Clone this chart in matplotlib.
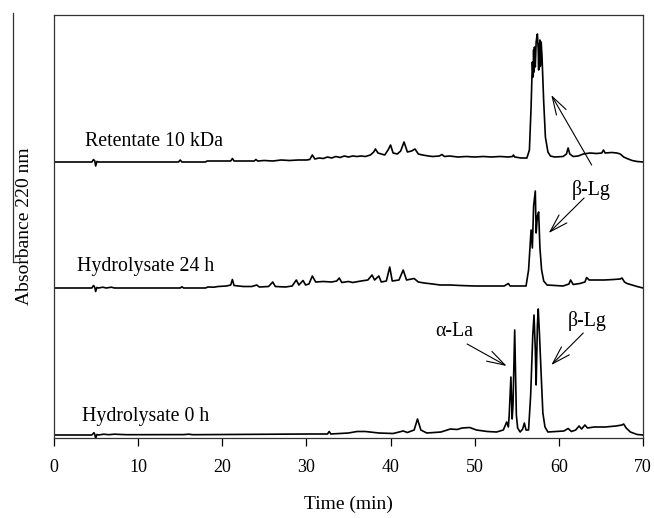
import matplotlib
matplotlib.use('Agg')
import matplotlib.pyplot as plt
from matplotlib.lines import Line2D

plt.rcParams['font.family'] = ['Liberation Serif', 'DejaVu Serif']

# chromatogram traces: time (min) and absorbance (arbitrary units above each baseline)
ret_t = [0, 4.5, 4.7, 4.85, 4.95, 5.1, 5.3, 14.8, 15.0, 15.2, 18.0, 18.2, 21.0, 21.2, 21.4,
         23.8, 24.0, 24.2, 25.0, 26.0, 27.0, 28.0, 29.0, 30.0, 30.4, 30.7, 31.0, 31.5, 32.0,
         32.5, 33.0, 33.5, 34.0, 34.5, 35.0, 35.5, 36.0, 36.5, 37.0, 37.6, 38.0, 38.2, 38.5,
         38.9, 39.3, 39.7, 40.0, 40.3, 40.8, 41.2, 41.6, 42.0, 42.5, 42.9, 43.3, 43.8, 44.5,
         45.0, 45.8, 46.1, 46.4, 47.0, 48.0, 49.0, 50.0, 51.0, 52.0, 53.0, 54.0, 54.5, 54.6,
         54.75, 55.5, 56.2, 56.5, 56.7, 56.85, 56.95, 57.0, 57.05, 57.1, 57.2, 57.3, 57.4,
         57.45, 57.55, 57.6, 57.65, 57.7, 57.75, 57.8, 57.9, 58.0, 58.2, 58.4, 58.7, 59.0,
         59.5, 60.5, 60.9, 61.1, 61.3, 61.7, 62.3, 62.9, 63.7, 64.5, 65.1, 65.3, 65.5, 66.3,
         66.9, 67.3, 67.7, 68.1, 68.7, 69.3, 70]
ret_a = [0, 0, 2.5, 1, -4, 0.5, 0, 0, 2, 0, 0, 1, 1, 3.5, 1,
         1, 2.5, 1, 1.5, 1, 2, 1.5, 2, 2, 2.5, 7, 3, 4, 3.5,
         5, 4, 5.5, 4.5, 6, 5, 6, 5.5, 6, 5.5, 7, 10, 13, 9,
         8, 7, 12, 17, 9, 8, 11, 20, 10, 11, 13, 8, 7, 6,
         5.5, 6, 7.5, 5.5, 6, 5, 5.5, 5, 5.5, 5, 5.5, 5, 5.5, 7,
         5, 4, 4, 12, 55, 100, 85, 112, 90, 115, 95, 120, 126,
         128, 112, 92, 118, 95, 122, 96, 120, 105, 60, 25, 10, 6,
         5, 5.5, 8, 14, 8, 5.5, 6, 8, 9, 8.5, 9, 12, 9, 9.5,
         9, 8, 5, 3.5, 1.5, 0.5, 0]

h24_t = [0, 4.5, 4.7, 4.85, 4.95, 5.1, 5.3, 5.8, 6.2, 6.8, 7.2, 15.0, 15.2, 15.4, 18.0, 18.3,
         19.0, 19.5, 20.5, 21.0, 21.2, 21.4, 22.5, 23.5, 24.1, 24.4, 25.5, 26.0, 26.3, 27.5,
         28.3, 28.8, 29.1, 29.6, 29.9, 30.3, 30.7, 31.1, 32.0, 33.0, 33.6, 33.9, 34.2, 35.0,
         35.5, 36.5, 37.3, 37.8, 38.1, 38.6, 38.9, 39.5, 39.9, 40.2, 41.0, 41.5, 41.9, 42.8,
         43.3, 44.0, 45.0, 45.9, 47.1, 48.3, 50.0, 52.0, 53.5, 54.0, 54.2, 56.1, 56.4, 56.7,
         56.85, 57.0, 57.2, 57.3, 57.45, 57.6, 57.75, 57.95, 58.2, 58.6, 60.5, 61.2, 61.4, 61.7,
         62.5, 63.1, 63.3, 63.6, 64.5, 65.4, 66.5, 67.3, 67.5, 67.8, 68.1, 69.3, 70]
h24_a = [0, 0, 2.5, 0.5, -3.5, 0.5, 0, 0.8, 0, 0.8, 0, 0, 1.2, 0, 0, 1,
         0.8, 1.5, 2, 3, 8.5, 2.5, 1.5, 1.5, 3, 1, 1.5, 6, 1.5, 1,
         2, 8, 3, 7.5, 3, 4, 12, 6, 6.5, 6, 7, 10, 5.5, 6.5,
         5.5, 7, 8, 13, 8, 12, 6, 7, 21, 7, 8, 18, 8, 9.5,
         6, 5, 4, 3, 3, 2.5, 2, 2, 2, 4.5, 2, 2, 18, 58,
         40, 82, 97, 55, 72, 76, 40, 18, 7, 3, 2, 4, 8, 3.5,
         4.5, 6, 10.5, 8, 8, 8, 8.5, 9, 10, 6, 4.5, 1.5, 0]

h0_t = [0, 4.5, 4.75, 4.85, 4.95, 5.1, 5.3, 5.9, 6.5, 7.2, 8.0, 8.7, 15.4, 16.0, 16.5, 30.4,
        32.5, 32.7, 32.9, 35.0, 36.0, 37.0, 38.6, 40.3, 41.5, 42.0, 42.8, 43.2, 43.6, 44.3,
        46.0, 47.1, 47.9, 48.5, 49.4, 50.2, 51.5, 52.6, 53.4, 53.8, 54.0, 54.1, 54.3, 54.45,
        54.55, 54.75, 54.95, 55.1, 55.4, 55.7, 55.9, 56.1, 56.4, 56.65, 56.9, 57.05, 57.2,
        57.3, 57.45, 57.55, 57.7, 57.9, 58.1, 58.35, 58.7, 60.6, 61.1, 61.5, 62.0, 62.4, 62.7,
        63.1, 63.4, 64.2, 65.5, 66.8, 67.5, 67.7, 68.0, 68.5, 69.3, 70]
h0_a = [0, 0, 2.3, 0.5, -3.3, 0.5, 0, 0.8, 0.3, 0.8, 0.5, 0.3, 0.4, 0.8, 0.3, 1,
        1, 3.5, 1, 2, 3.5, 3.5, 2, 1.5, 4, 2.5, 5, 16, 5, 2,
        3, 6, 5.5, 7, 7.5, 5, 3.5, 3, 5, 13, 8, 20, 58, 16,
        30, 105, 20, 7, 3, 6, 12, 5, 5, 40, 100, 120, 85,
        50, 110, 126, 100, 60, 22, 8, 3, 4, 6.5, 3.5, 5, 9, 6,
        10, 7, 8, 8, 9, 10, 11, 7, 3, 0.5, 0]

names = ['Retentate 10 kDa', 'Hydrolysate 24 h', 'Hydrolysate 0 h']
xticks = [0, 10, 20, 30, 40, 50, 60, 70]

# vertical offsets of the stacked traces
offsets = [276, 150, 3]
traces = [(ret_t, ret_a), (h24_t, h24_a), (h0_t, h0_a)]

fig = plt.figure(figsize=(6.54, 5.18), dpi=100)
ax = fig.add_axes([54 / 654, 1 - 438 / 518, 589 / 654, 423 / 518])

for (t, a), off in zip(traces, offsets):
    ax.plot(t, [v + off for v in a], color='black', lw=1.2)

ax.set_xlim(0, 70)
ax.set_ylim(0, 423)
ax.set_xticks(xticks)
ax.set_yticks([])
ax.tick_params(axis='x', direction='out', length=6, width=0.9, pad=9, labelsize=13)
for s in ax.spines.values():
    s.set_linewidth(0.9)
    s.set_color('#333333')

ax.set_xlabel('Time (min)', fontsize=14, labelpad=14)
ax.set_ylabel('Absorbance 220 nm', fontsize=14, labelpad=15)

# trace labels
fs = 14.3
ax.text(3.7, 297, names[0], fontsize=fs, va='center', ha='left')
ax.text(2.7, 171, names[1], fontsize=fs, va='center', ha='left')
ax.text(3.3, 22, names[2], fontsize=fs, va='center', ha='left')

arrow = dict(arrowstyle='->, head_length=1.3, head_width=0.4', lw=0.8, color='black',
             shrinkA=0, shrinkB=0)
ax.annotate('', xy=(59.1, 343), xytext=(63.9, 273), arrowprops=arrow)
ax.text(63.9, 248, 'β-Lg', fontsize=fs, ha='center', va='center')
ax.annotate('', xy=(58.8, 205), xytext=(63.0, 240), arrowprops=arrow)
ax.annotate('', xy=(53.8, 72), xytext=(49.1, 94), arrowprops=arrow)
ax.text(47.6, 106, 'α-La', fontsize=fs, ha='center', va='center')
ax.annotate('', xy=(59.1, 73), xytext=(62.9, 105), arrowprops=arrow)
ax.text(63.4, 117, 'β-Lg', fontsize=fs, ha='center', va='center')

# stray vertical rule at the left edge
fig.add_artist(Line2D([13 / 654, 13 / 654], [1 - 13 / 518, 1 - 262 / 518],
                      color='#333333', lw=0.9))
fig.add_artist(Line2D([13 / 654, 18 / 654], [1 - 262 / 518, 1 - 262 / 518],
                      color='#333333', lw=0.9))

fig.savefig('out.png', dpi=100)
